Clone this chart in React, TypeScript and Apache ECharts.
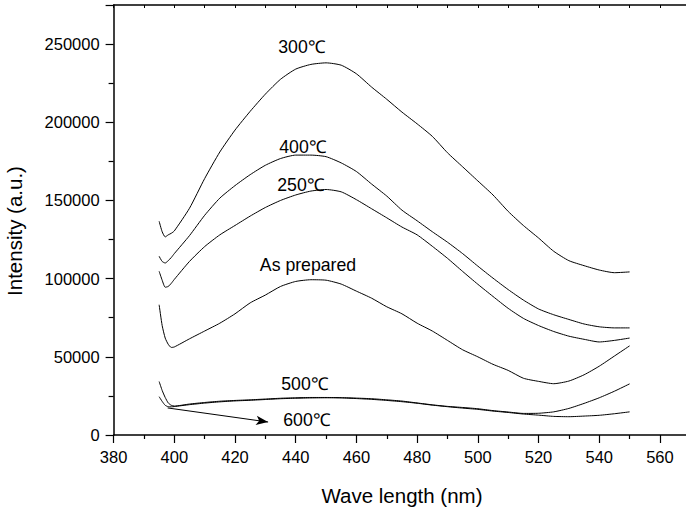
import React, { useEffect, useRef } from "react";
import * as echarts from "echarts";

const wavelengths = [
  395, 396, 397, 398, 399, 400, 405, 410, 415, 420, 425, 430, 435, 440, 445, 450,
  455, 460, 465, 470, 475, 480, 485, 490, 495, 500, 505, 510, 515, 520, 525, 530,
  535, 540, 545, 550,
];

// values in thousands of counts
const asPrepared = [
  83.3, 70, 62, 58, 56, 56.3, 61.5, 66.5, 71.5, 77.5, 84.5, 89.5, 95, 98.2, 99.3, 99,
  96.5, 92, 87.5, 82, 77.5, 71.5, 66.5, 60.5, 54.5, 50, 45.2, 41.3, 36.3, 34.3, 32.8, 34.5,
  38.5, 44, 50.5, 57,
];
const t250 = [
  104.7, 99, 94.5, 95, 97, 99.5, 111, 120.5, 128, 134, 140, 145.5, 150, 153.5, 156, 157,
  155.5, 150.5, 144.7, 138.9, 133, 128, 120.7, 113, 104.6, 96.4, 88.6, 81, 74.6, 70, 66.2, 63.2,
  61.2, 59.5, 60.5, 62,
];
const t300 = [
  136.7, 130, 126.7, 128, 129, 130.5, 145, 164, 181, 195, 207, 218, 227.5, 234, 237, 238,
  236.5, 231, 222.5, 214.7, 206.5, 199, 191, 180.5, 171.5, 162.5, 153.5, 143, 134, 126, 117.5, 111.5,
  108.3, 105.5, 103.8, 104.3,
];
const t400 = [
  114.3, 111, 110, 111.5, 113.5, 116, 127.5, 140.5, 151.5, 159.5, 166.5, 172.5, 176.8, 179, 179, 178,
  174, 168.5, 160.5, 152.8, 143.8, 137, 130, 123.3, 116, 108, 100.3, 93, 86.3, 80.6, 76.9, 73.9,
  71, 69.2, 68.5, 68.5,
];
const t500 = [
  34.2, 28.5, 24, 20.5, 19, 18.5, 19.8, 20.8, 21.6, 22.1, 22.5, 23, 23.5, 23.8, 24, 24,
  23.9, 23.6, 23.2, 22.5, 21.7, 20.5, 19.3, 18.3, 17.6, 16.8, 15.6, 14.7, 13.8, 13.9, 14.8, 17,
  20.2, 23.8, 28, 32.7,
];
const t600 = [
  24.5, 21.5, 19, 18.1, 18, 18.2, 19.4, 20.4, 21.2, 21.8, 22.2, 22.7, 23.2, 23.5, 23.7, 23.8,
  23.7, 23.3, 22.8, 22.1, 21.3, 20.3, 19.1, 18.1, 17.2, 16.4, 15.3, 14.4, 13.4, 12.7, 11.9, 11.7,
  12.1, 12.6, 13.6, 14.8,
];

const seriesNames = ["As prepared", "250℃", "300℃", "400℃", "500℃", "600℃"];
const seriesValues = [asPrepared, t250, t300, t400, t500, t600];

const arrowStart = [397.8, 17300];
const arrowEnd = [430.9, 8300];

const xTickLabels = [380, 400, 420, 440, 460, 480, 500, 520, 540, 560];
const yTickLabels = [0, 50000, 100000, 150000, 200000, 250000];

const FONT = "'Liberation Sans', Arial, Helvetica, sans-serif";

export default function App() {
  const ref = useRef<HTMLDivElement>(null);
  useEffect(() => {
    if (!ref.current) return;
    const chart = echarts.init(ref.current, null, { renderer: "svg" });
    const axisLine = { show: true, lineStyle: { color: "#000", width: 1.5 } };
    const series: any[] = seriesNames.map((name, i) => ({
      name,
      type: "line",
      data: wavelengths.map((w, j) => [w, seriesValues[i][j] * 1000]),
      showSymbol: false,
      symbol: "none",
      smooth: 0.2,
      lineStyle: { color: "#000", width: 1 },
      z: 3,
    }));
    series[5].markLine = {
      silent: true,
      symbol: ["none", "arrow"],
      symbolSize: [7, 12],
      label: { show: false },
      lineStyle: { color: "#000", width: 1, type: "solid" },
      data: [[{ coord: arrowStart }, { coord: arrowEnd }]],
    };
    chart.setOption({
      animation: false,
      backgroundColor: "#fff",
      textStyle: { fontFamily: FONT },
      grid: {
        left: 113.6,
        top: 5,
        width: 576.7,
        height: 430,
        containLabel: false,
        outerBoundsMode: "none",
      },
      xAxis: [
        {
          type: "value",
          position: "bottom",
          min: 380,
          max: 570,
          interval: 20,
          axisLine,
          axisTick: { show: true, length: 8, inside: false, lineStyle: { color: "#000", width: 1.2 } },
          minorTick: { show: true, splitNumber: 2, length: 4, lineStyle: { color: "#000", width: 1.2 } },
          splitLine: { show: false },
          axisLabel: {
            color: "#000",
            fontSize: 16.5,
            fontFamily: FONT,
            margin: 13,
            showMaxLabel: false,
            formatter: (v: number) => (xTickLabels.includes(v) ? String(v) : ""),
          },
        },
        {
          type: "value",
          position: "top",
          min: 380,
          max: 570,
          interval: 10,
          axisLine,
          axisTick: { show: true, length: 3, inside: true, lineStyle: { color: "#000", width: 1 } },
          splitLine: { show: false },
          axisLabel: { show: false },
        },
      ],
      yAxis: [
        {
          type: "value",
          position: "left",
          min: 0,
          max: 275000,
          interval: 50000,
          axisLine,
          axisTick: { show: true, length: 8, inside: false, lineStyle: { color: "#000", width: 1.2 } },
          minorTick: { show: true, splitNumber: 2, length: 5, lineStyle: { color: "#000", width: 1.2 } },
          splitLine: { show: false },
          axisLabel: {
            color: "#000",
            fontSize: 16.5,
            fontFamily: FONT,
            margin: 14,
            showMaxLabel: false,
            formatter: (v: number) => (yTickLabels.includes(v) ? String(v) : ""),
          },
        },
      ],
      series,
      graphic: [
        {
          type: "text",
          x: 402,
          y: 495,
          style: {
            text: "Wave length (nm)",
            font: `20.5px ${FONT}`,
            fill: "#000",
            textAlign: "center",
            textVerticalAlign: "middle",
          },
        },
        {
          type: "text",
          x: 14,
          y: 231,
          rotation: Math.PI / 2,
          style: {
            text: "Intensity (a.u.)",
            font: `20.5px ${FONT}`,
            fill: "#000",
            textAlign: "center",
            textVerticalAlign: "middle",
          },
        },
        ...[
          ["300℃", 302, 47],
          ["400℃", 303, 147],
          ["250℃", 301, 185],
          ["As prepared", 308, 265],
          ["500℃", 305, 384],
          ["600℃", 307, 420],
        ].map(([t, x, y]) => ({
          type: "text",
          x: x as number,
          y: y as number,
          z: 10,
          style: {
            text: t as string,
            font: `17.7px ${FONT}`,
            fill: "#000",
            textAlign: "center",
            textVerticalAlign: "middle",
          },
        })),
      ],
    });
    return () => chart.dispose();
  }, []);
  return (
    <div
      ref={ref}
      style={{ position: "absolute", left: 0, top: 0, width: 686, height: 509, background: "#fff" }}
    />
  );
}
